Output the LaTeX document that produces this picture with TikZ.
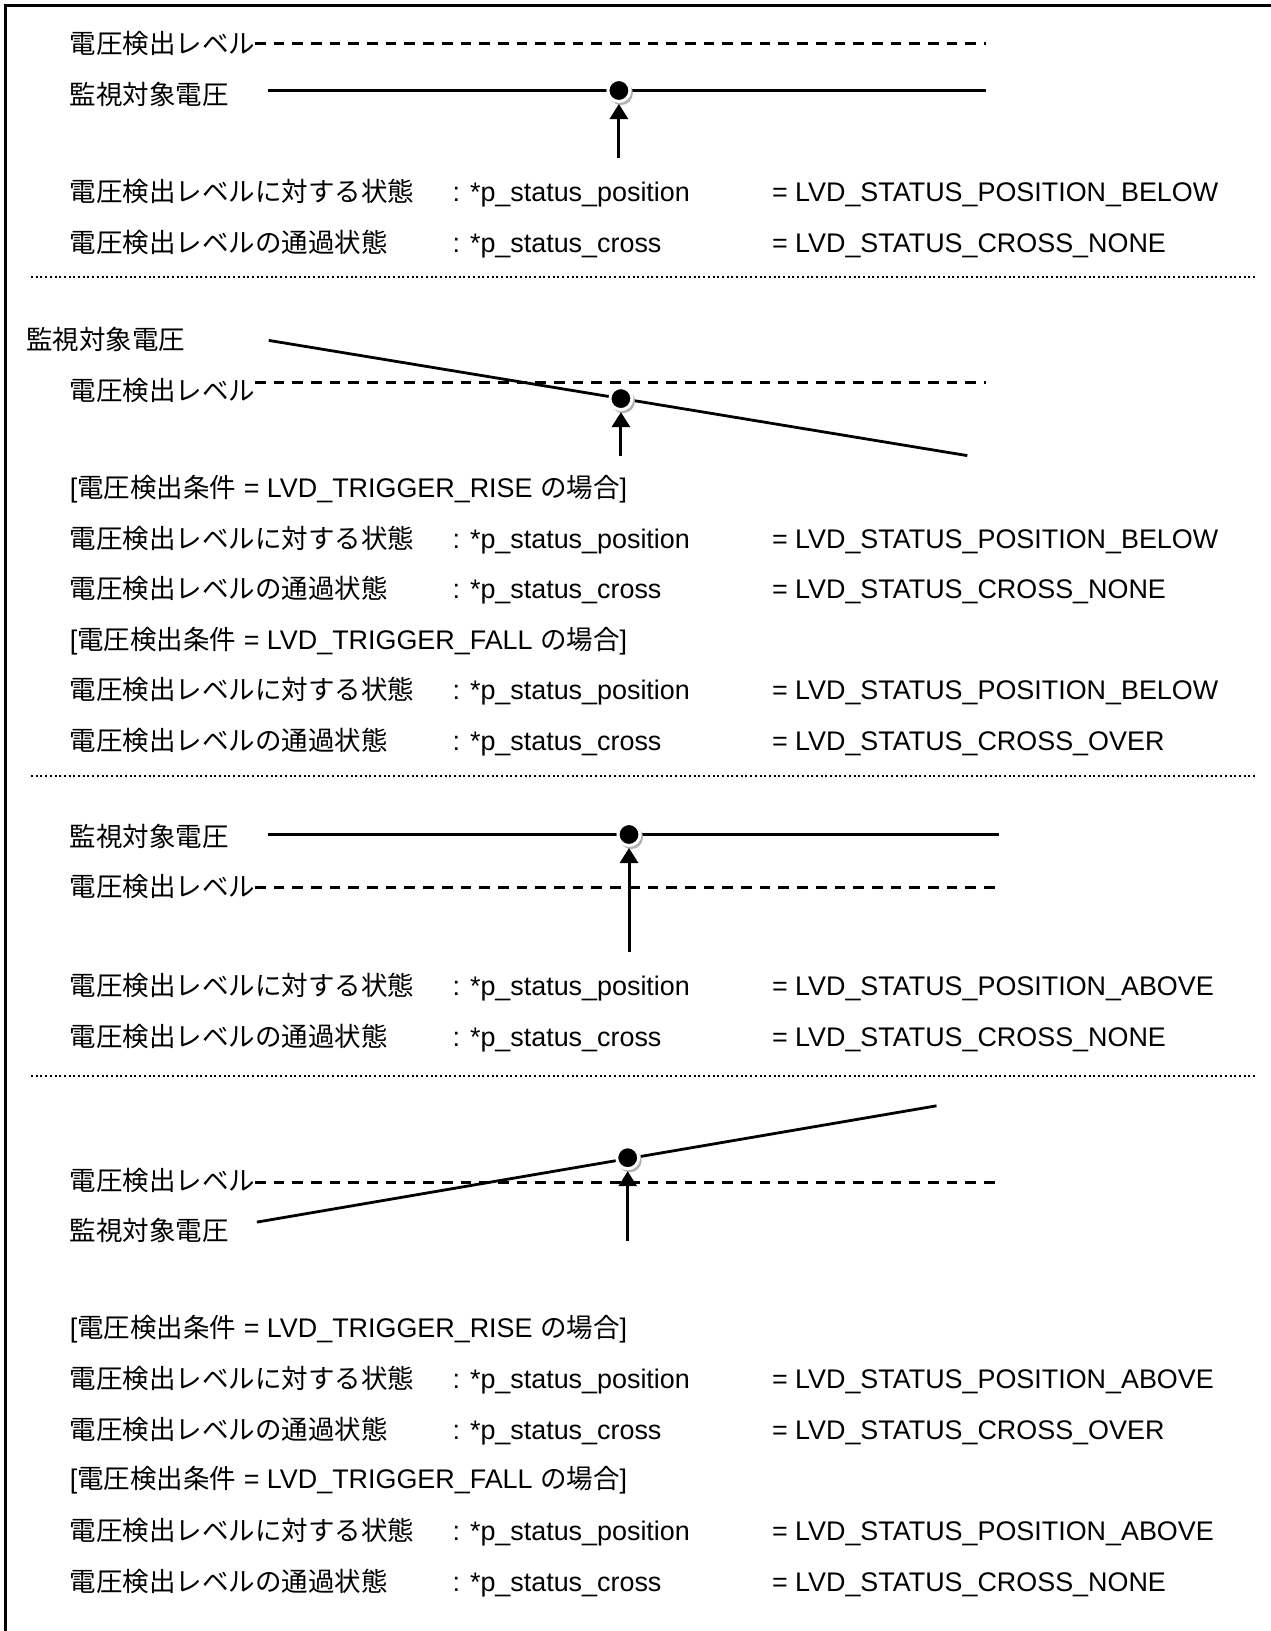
\documentclass[tikz,border=0pt]{standalone}
\usepackage{fontspec}
\setmainfont{Liberation Sans}
\newfontfamily\jp[Scale=0.985]{Noto Sans CJK JP}
\usetikzlibrary{arrows.meta,shadows}
\begin{document}
\begin{tikzpicture}[x=1pt,y=-1pt,
  txt/.style={anchor=base west, inner sep=0pt, font=\fontsize{26.9}{30}\selectfont},
  sline/.style={line width=2.8pt},
  dline/.style={line width=3pt, dash pattern=on 10.7pt off 8pt},
  sepline/.style={line width=2pt, dash pattern=on 2pt off 2.7pt},
  ptr/.style={line width=3pt, -{Triangle[length=15pt,width=18pt]}, shorten >=1pt},
  dotn/.style={circle, fill=black, draw=white, line width=3pt, minimum size=22pt, inner sep=0pt,
    drop shadow={opacity=1, fill=gray!60, shadow xshift=2pt, shadow yshift=-2.5pt, shadow scale=1.08}},
]
\useasboundingbox (0,0) rectangle (1270,1631);
% frame (top and left edges visible)
\draw[line width=3pt] (5.3,1640) -- (5.3,5.5) -- (1280,5.5);

% ---------------- Section 1 ----------------
\node[txt] (s1lv) at (69.7,53.2) {\jp 電圧検出レベル};
\node[txt] (s1mv) at (69.7,104.1) {\jp 監視対象電圧};
\coordinate (s1d0) at (254.8,43.7);
\coordinate (s1d1) at (986,43.7);
\coordinate (s1m0) at (268.3,90.5);
\coordinate (s1m1) at (986,90.5);
\draw[dline] (s1d0) -- (s1d1);
\draw[sline] (s1m0) -- (s1m1);
\node[dotn] (s1dot) at (618.9,90.5) {};
\coordinate (s1a) at (618.9,158.1);
\draw[ptr] (s1a) -- (s1dot);
\node[txt] (s1r1a) at (69.7,201.9) {\jp 電圧検出レベルに対する状態};
\node[txt] (s1r1b) at (452.4,201.9) {: *p\_status\_position};
\node[txt] (s1r1c) at (771.8,201.9) {= LVD\_STATUS\_POSITION\_BELOW};
\node[txt] (s1r2a) at (69.7,252.9) {\jp 電圧検出レベルの通過状態};
\node[txt] (s1r2b) at (452.4,252.9) {: *p\_status\_cross};
\node[txt] (s1r2c) at (771.8,252.9) {= LVD\_STATUS\_CROSS\_NONE};
\coordinate (sep1a) at (31,276.7);
\coordinate (sep1b) at (1255.4,276.7);
\draw[sepline] (sep1a) -- (sep1b);

% ---------------- Section 2 ----------------
\node[txt] (s2mv) at (26,349.6) {\jp 監視対象電圧};
\node[txt] (s2lv) at (69.7,400.6) {\jp 電圧検出レベル};
\coordinate (s2d0) at (254.8,382.8);
\coordinate (s2d1) at (986,382.8);
\coordinate (s2m0) at (268.8,340.4);
\coordinate (s2m1) at (967.3,455.6);
\draw[dline] (s2d0) -- (s2d1);
\draw[sline] (s2m0) -- (s2m1);
\node[dotn] (s2dot) at (620.9,398.6) {};
\coordinate (s2a) at (620.9,455.6);
\draw[ptr] (s2a) -- (s2dot);
\node[txt] (s2h1) at (69.7,497.3) {[{\jp 電圧検出条件} = LVD\_TRIGGER\_RISE {\jp の場合}]};
\node[txt] (s2r1a) at (69.7,548.3) {\jp 電圧検出レベルに対する状態};
\node[txt] (s2r1b) at (452.4,548.3) {: *p\_status\_position};
\node[txt] (s2r1c) at (771.8,548.3) {= LVD\_STATUS\_POSITION\_BELOW};
\node[txt] (s2r2a) at (69.7,598.2) {\jp 電圧検出レベルの通過状態};
\node[txt] (s2r2b) at (452.4,598.2) {: *p\_status\_cross};
\node[txt] (s2r2c) at (771.8,598.2) {= LVD\_STATUS\_CROSS\_NONE};
\node[txt] (s2h2) at (69.7,649.2) {[{\jp 電圧検出条件} = LVD\_TRIGGER\_FALL {\jp の場合}]};
\node[txt] (s2r3a) at (69.7,699.1) {\jp 電圧検出レベルに対する状態};
\node[txt] (s2r3b) at (452.4,699.1) {: *p\_status\_position};
\node[txt] (s2r3c) at (771.8,699.1) {= LVD\_STATUS\_POSITION\_BELOW};
\node[txt] (s2r4a) at (69.7,750.1) {\jp 電圧検出レベルの通過状態};
\node[txt] (s2r4b) at (452.4,750.1) {: *p\_status\_cross};
\node[txt] (s2r4c) at (771.8,750.1) {= LVD\_STATUS\_CROSS\_OVER};
\coordinate (sep2a) at (31,775.9);
\coordinate (sep2b) at (1255.4,775.9);
\draw[sepline] (sep2a) -- (sep2b);

% ---------------- Section 3 ----------------
\node[txt] (s3mv) at (69.7,846.8) {\jp 監視対象電圧};
\node[txt] (s3lv) at (69.7,896.7) {\jp 電圧検出レベル};
\coordinate (s3m0) at (268.3,834.3);
\coordinate (s3m1) at (998.5,834.3);
\coordinate (s3d0) at (254.8,887.5);
\coordinate (s3d1) at (996.4,887.5);
\draw[dline] (s3d0) -- (s3d1);
\draw[sline] (s3m0) -- (s3m1);
\coordinate (s3a) at (629,951.7);
\node[dotn] (s3dot) at (629,834.5) {};
\draw[ptr] (s3a) -- (s3dot);
\node[txt] (s3r1a) at (69.7,995.5) {\jp 電圧検出レベルに対する状態};
\node[txt] (s3r1b) at (452.4,995.5) {: *p\_status\_position};
\node[txt] (s3r1c) at (771.8,995.5) {= LVD\_STATUS\_POSITION\_ABOVE};
\node[txt] (s3r2a) at (69.7,1046.5) {\jp 電圧検出レベルの通過状態};
\node[txt] (s3r2b) at (452.4,1046.5) {: *p\_status\_cross};
\node[txt] (s3r2c) at (771.8,1046.5) {= LVD\_STATUS\_CROSS\_NONE};
\coordinate (sep3a) at (31,1075.5);
\coordinate (sep3b) at (1255.4,1075.5);
\draw[sepline] (sep3a) -- (sep3b);

% ---------------- Section 4 ----------------
\node[txt] (s4lv) at (69.7,1190) {\jp 電圧検出レベル};
\node[txt] (s4mv) at (69.7,1240) {\jp 監視対象電圧};
\coordinate (s4d0) at (254.8,1182.7);
\coordinate (s4d1) at (996.6,1182.7);
\coordinate (s4m0) at (256.9,1222.1);
\coordinate (s4m1) at (936.5,1105.8);
\draw[dline] (s4d0) -- (s4d1);
\draw[sline] (s4m0) -- (s4m1);
\node[dotn] (s4dot) at (627.7,1157.7) {};
\coordinate (s4a) at (627.7,1240.9);
\draw[ptr] (s4a) -- (s4dot);
\node[txt] (s4h1) at (69.7,1337.7) {[{\jp 電圧検出条件} = LVD\_TRIGGER\_RISE {\jp の場合}]};
\node[txt] (s4r1a) at (69.7,1388.7) {\jp 電圧検出レベルに対する状態};
\node[txt] (s4r1b) at (452.4,1388.7) {: *p\_status\_position};
\node[txt] (s4r1c) at (771.8,1388.7) {= LVD\_STATUS\_POSITION\_ABOVE};
\node[txt] (s4r2a) at (69.7,1439.6) {\jp 電圧検出レベルの通過状態};
\node[txt] (s4r2b) at (452.4,1439.6) {: *p\_status\_cross};
\node[txt] (s4r2c) at (771.8,1439.6) {= LVD\_STATUS\_CROSS\_OVER};
\node[txt] (s4h2) at (69.7,1488.5) {[{\jp 電圧検出条件} = LVD\_TRIGGER\_FALL {\jp の場合}]};
\node[txt] (s4r3a) at (69.7,1540.5) {\jp 電圧検出レベルに対する状態};
\node[txt] (s4r3b) at (452.4,1540.5) {: *p\_status\_position};
\node[txt] (s4r3c) at (771.8,1540.5) {= LVD\_STATUS\_POSITION\_ABOVE};
\node[txt] (s4r4a) at (69.7,1591.5) {\jp 電圧検出レベルの通過状態};
\node[txt] (s4r4b) at (452.4,1591.5) {: *p\_status\_cross};
\node[txt] (s4r4c) at (771.8,1591.5) {= LVD\_STATUS\_CROSS\_NONE};
\end{tikzpicture}
\end{document}
